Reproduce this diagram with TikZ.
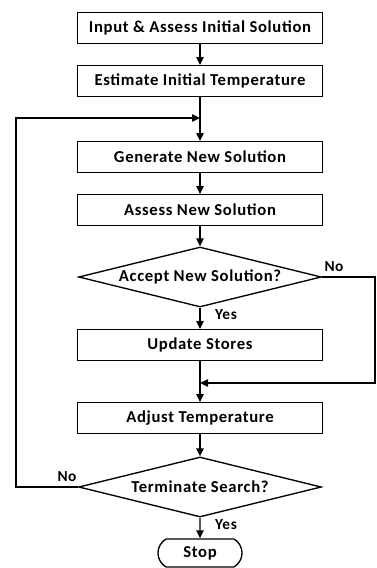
\documentclass[tikz,border=0pt]{standalone}
\usepackage{fontspec}
\setmainfont{Carlito}[LetterSpace=4]
\usetikzlibrary{arrows.meta,shapes.geometric,shapes.misc}

\tikzset{every picture/.style={line width=1pt}}
\tikzset{
  procbox/.style={draw, rectangle, minimum width=184pt, minimum height=23pt, inner sep=0pt, font=\bfseries\fontsize{12.5}{14}\selectfont},
  decide/.style={draw, diamond, aspect=4, minimum width=182pt, minimum height=45pt, inner sep=0pt, font=\bfseries\fontsize{12.5}{14}\selectfont},
  termin/.style={draw, rounded rectangle, rounded rectangle arc length=120, minimum width=63pt, minimum height=21pt, inner sep=0pt, font=\bfseries\fontsize{12.5}{14}\selectfont},
  lbl/.style={font=\bfseries\fontsize{11.5}{13}\selectfont, inner sep=0pt},
  arr/.style={-{Triangle[length=6pt,width=5.5pt]}}
}

\begin{document}
\begin{tikzpicture}[x=0.75pt,y=0.75pt,yscale=-1,xscale=1]
\useasboundingbox (0,0) rectangle (376,568);

%Main column
\node[procbox] (inp) at (200,28) {Input \& Assess Initial Solution};
\node[procbox] (est) at (200,81) {Estimate Initial Temperature};
\node[procbox] (gen) at (200,157) {Generate New Solution};
\node[procbox] (ass) at (200,210) {Assess New Solution};
\node[decide] (acc) at (200,277) {Accept New Solution?};
\node[procbox] (upd) at (200,345) {Update Stores};
\node[procbox] (adj) at (200,418) {Adjust Temperature};
\node[decide] (term) at (200,487) {Terminate Search?};
\node[termin] (stop) at (200,553) {Stop};

%Junctions
\coordinate (j1) at (200,118);
\coordinate (j2) at (200,383);
\coordinate (lt) at (16,118);
\coordinate (rb) at (375,383);

%Labels
\node[lbl] (accno) at (334,267) {No};
\node[lbl] (accyes) at (226,315) {Yes};
\node[lbl] (termno) at (67,477) {No};
\node[lbl] (termyes) at (226,525) {Yes};

%Arrows
\draw[arr] (inp) -- (est);
\draw[arr] (est) -- (gen);
\draw[arr] (gen) -- (ass);
\draw[arr] (ass) -- (acc);
\draw[arr] (acc) -- (upd);
\draw[arr] (upd) -- (adj);
\draw[arr] (adj) -- (term);
\draw[arr] (term) -- (stop);
\draw[arr] (acc.east) -| (rb) -- (j2);
\draw[arr] (term.west) -| (lt) -- (j1);

\end{tikzpicture}
\end{document}
